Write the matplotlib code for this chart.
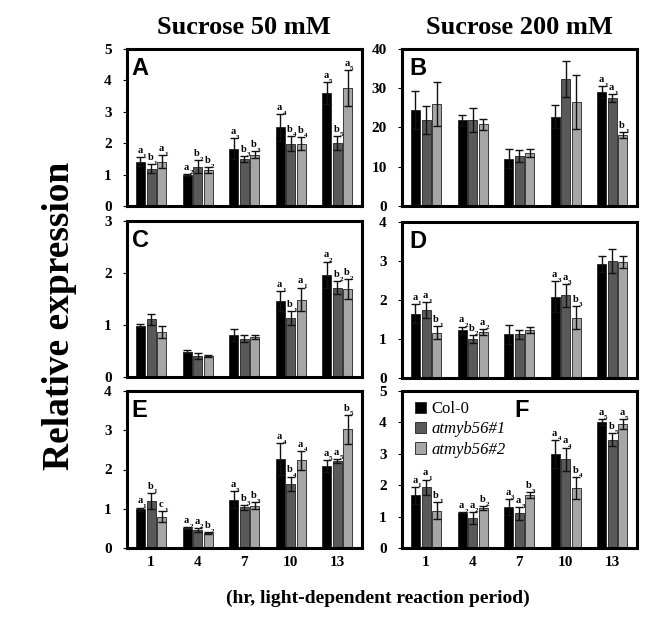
import matplotlib.pyplot as plt

# ── Data ────────────────────────────────────────────────
hours = [1, 4, 7, 10, 13]
lines = ['Col-0', 'atmyb56#1', 'atmyb56#2']

# panel A : sucrose 50 mM
a_col = [1.41, 1.00, 1.82, 2.50, 3.59]
a_m1  = [1.19, 1.25, 1.49, 1.99, 2.00]
a_m2  = [1.41, 1.14, 1.64, 1.99, 3.75]
a_col_err = [0.14, 0.03, 0.33, 0.42, 0.35]
a_m1_err  = [0.14, 0.20, 0.10, 0.25, 0.23]
a_m2_err  = [0.20, 0.09, 0.10, 0.22, 0.58]
a_sig = [['a1', 'b1', 'a1'], ['a2', 'b2', 'b2'], ['a3', 'b3', 'b3'],
         ['a4', 'b4', 'b4'], ['a5', 'b5', 'a5']]

# panel B : sucrose 200 mM
b_col = [24.5, 21.9, 12.1, 22.8, 29.0]
b_m1  = [21.9, 21.9, 12.7, 32.3, 27.5]
b_m2  = [26.0, 20.8, 13.4, 26.5, 18.0]
b_col_err = [4.9, 1.4, 2.4, 2.9, 1.5]
b_m1_err  = [3.6, 3.0, 1.5, 4.6, 1.0]
b_m2_err  = [5.5, 1.4, 1.0, 6.8, 0.8]
b_sig = [None, None, None, None, ['a1', 'a1', 'b1']]

# panel C : sucrose 50 mM
c_col = [0.99, 0.49, 0.81, 1.46, 1.97]
c_m1  = [1.11, 0.40, 0.74, 1.13, 1.72]
c_m2  = [0.87, 0.40, 0.77, 1.49, 1.69]
c_col_err = [0.03, 0.02, 0.12, 0.19, 0.25]
c_m1_err  = [0.11, 0.06, 0.06, 0.13, 0.13]
c_m2_err  = [0.12, 0.02, 0.04, 0.23, 0.19]
c_sig = [None, None, None, ['a1', 'b1', 'a1'], ['a2', 'b2', 'b2']]

# panel D : sucrose 200 mM
d_col = [1.65, 1.22, 1.12, 2.08, 2.93]
d_m1  = [1.74, 1.00, 1.12, 2.12, 3.00]
d_m2  = [1.16, 1.18, 1.23, 1.55, 2.98]
d_col_err = [0.24, 0.10, 0.25, 0.40, 0.20]
d_m1_err  = [0.20, 0.10, 0.11, 0.30, 0.30]
d_m2_err  = [0.17, 0.08, 0.08, 0.30, 0.15]
d_sig = [['a1', 'a1', 'b1'], ['a2', 'b2', 'a2'], None, ['a3', 'a3', 'b3'], None]

# panel E : sucrose 50 mM
e_col = [0.99, 0.51, 1.23, 2.27, 2.09]
e_m1  = [1.20, 0.47, 1.04, 1.64, 2.22]
e_m2  = [0.80, 0.38, 1.08, 2.23, 3.02]
e_col_err = [0.04, 0.02, 0.21, 0.40, 0.15]
e_m1_err  = [0.20, 0.05, 0.06, 0.18, 0.05]
e_m2_err  = [0.13, 0.02, 0.08, 0.24, 0.37]
e_sig = [['a1', 'b1', 'c1'], ['a2', 'a2', 'b2'], ['a3', 'b3', 'b3'],
         ['a4', 'b4', 'a4'], ['a5', 'a5', 'b5']]

# panel F : sucrose 200 mM
f_col = [1.68, 1.12, 1.31, 3.00, 4.02]
f_m1  = [1.94, 0.96, 1.10, 2.82, 3.45]
f_m2  = [1.19, 1.28, 1.68, 1.92, 3.95]
f_col_err = [0.27, 0.02, 0.25, 0.45, 0.10]
f_m1_err  = [0.24, 0.19, 0.20, 0.38, 0.20]
f_m2_err  = [0.27, 0.07, 0.09, 0.35, 0.15]
f_sig = [['a1', 'a1', 'b1'], ['a2', 'a2', 'b2'], ['a3', 'a3', 'b3'],
         ['a4', 'a4', 'b4'], ['a5', 'b5', 'a5']]

# ── Style ───────────────────────────────────────────────
COLORS = ['#000000', '#595959', '#a6a6a6']
SERIF  = 'Liberation Serif'
SANS   = 'Liberation Sans'
W, H   = 647, 642
OFFSET = 0.68
BAR_W  = 0.58


def box(x0, y0, x1, y1):
    """pixel box (top-left origin) -> figure fraction rect"""
    return [x0 / W, 1 - y1 / H, (x1 - x0) / W, (y1 - y0) / H]


def draw_panel(ax, series, errs, sig, ymax, letter, letter_x, bottom=False):
    bars = []
    for i, (vals, err) in enumerate(zip(series, errs)):
        xs = [h + (i - 1) * OFFSET for h in hours]
        b = ax.bar(xs, vals, width=BAR_W, color=COLORS[i],
                   edgecolor='#222222', linewidth=0.6, zorder=2)
        ax.errorbar(xs, vals, yerr=err, fmt='none', ecolor='#111111',
                    elinewidth=1.0, capsize=3, capthick=1.0, zorder=3)
        bars.append(b)

        for j, x in enumerate(xs):
            if sig[j] is None:
                continue
            lab = sig[j][i]
            top = vals[j] + err[j]
            ax.annotate(lab[0], (x, top), xytext=(-0.5, 1.5),
                        textcoords='offset points', ha='center', va='bottom',
                        fontsize=7.5, fontweight='bold', family=SERIF, zorder=4)
            ax.annotate(lab[1], (x, top), xytext=(3.0, -1.0),
                        textcoords='offset points', ha='center', va='bottom',
                        fontsize=5, fontweight='bold', family=SERIF, zorder=4)

    ax.set_xlim(-0.55, 14.6)
    ax.set_ylim(0, ymax)
    ax.set_yticks(range(0, ymax + 1, 10 if ymax > 10 else 1))
    ax.tick_params(axis='y', direction='out', length=3, width=0.8, pad=8,
                   labelsize=11)
    for t in ax.get_yticklabels():
        t.set_fontweight('bold')
        t.set_family(SERIF)
    ax.set_xticks(hours)
    if bottom:
        ax.set_xticklabels([str(h) for h in hours], fontsize=11,
                           fontweight='bold', family=SERIF)
        ax.tick_params(axis='x', length=0, pad=6)
    else:
        ax.set_xticklabels([])
        ax.tick_params(axis='x', length=0)
    for s in ax.spines.values():
        s.set_linewidth(2.2)

    ax.text(letter_x, 0.95, letter, transform=ax.transAxes, ha='left',
            va='top', fontsize=17, fontweight='bold', family=SANS)
    return bars


fig = plt.figure(figsize=(W / 100, H / 100), dpi=100)

panels = [
    ([a_col, a_m1, a_m2], [a_col_err, a_m1_err, a_m2_err], a_sig, 5,  'A', box(127, 49, 362, 206),  0.02, False),
    ([b_col, b_m1, b_m2], [b_col_err, b_m1_err, b_m2_err], b_sig, 40, 'B', box(402, 49, 637, 206),  0.03, False),
    ([c_col, c_m1, c_m2], [c_col_err, c_m1_err, c_m2_err], c_sig, 3,  'C', box(127, 221, 362, 377), 0.02, False),
    ([d_col, d_m1, d_m2], [d_col_err, d_m1_err, d_m2_err], d_sig, 4,  'D', box(402, 222, 637, 378), 0.03, False),
    ([e_col, e_m1, e_m2], [e_col_err, e_m1_err, e_m2_err], e_sig, 4,  'E', box(127, 391, 362, 548), 0.02, True),
    ([f_col, f_m1, f_m2], [f_col_err, f_m1_err, f_m2_err], f_sig, 5,  'F', box(402, 391, 637, 548), 0.48, True),
]

for series, errs, sig, ymax, letter, rect, lx, bottom in panels:
    ax = fig.add_axes(rect)
    bars = draw_panel(ax, series, errs, sig, ymax, letter, lx, bottom)
    if letter == 'F':
        leg = ax.legend(bars, lines, loc='upper left', frameon=False,
                        bbox_to_anchor=(-0.01, 1.03), handlelength=0.7,
                        handleheight=0.7, handletextpad=0.3, labelspacing=0.25,
                        prop={'family': SERIF, 'size': 12})
        for t in leg.get_texts()[1:]:
            t.set_style('italic')

# ── Titles and axis labels ──────────────────────────────
fig.text(244 / W, 1 - 27 / H, 'Sucrose 50 mM', ha='center', va='center',
         fontsize=19, fontweight='bold', family=SERIF)
fig.text(519 / W, 1 - 27 / H, 'Sucrose 200 mM', ha='center', va='center',
         fontsize=19, fontweight='bold', family=SERIF)
fig.text(60 / W, 1 - 316 / H, 'Relative expression', ha='center',
         va='center', rotation=90, fontsize=27, fontweight='bold', family=SERIF)
fig.text(378 / W, 1 - 598 / H, '(hr, light-dependent reaction period)',
         ha='center', va='center', fontsize=14, fontweight='bold',
         family=SERIF)

fig.savefig('out.png', dpi=100)
